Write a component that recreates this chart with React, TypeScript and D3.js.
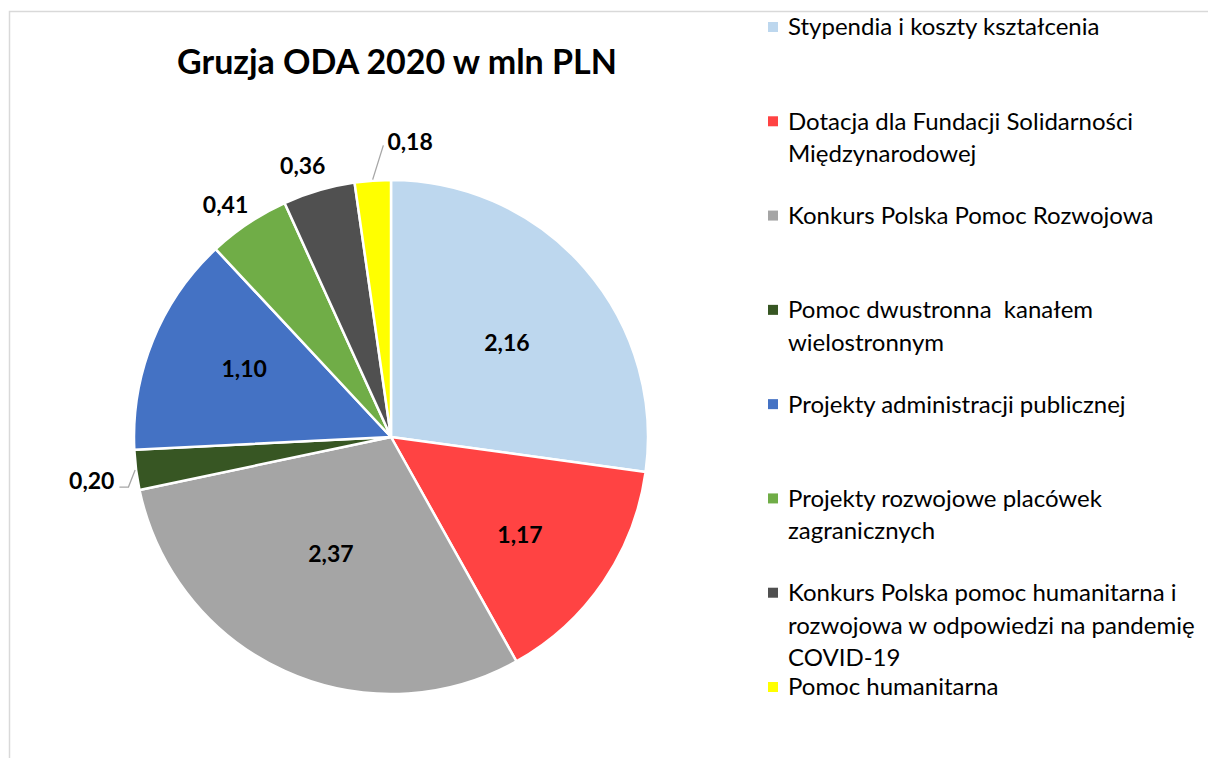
import React from 'react';
import * as d3 from 'd3';

// Gruzja ODA 2020, mln PLN
const categories = [
  'Stypendia i koszty kształcenia',
  'Dotacja dla Fundacji Solidarności Międzynarodowej',
  'Konkurs Polska Pomoc Rozwojowa',
  'Pomoc dwustronna  kanałem wielostronnym',
  'Projekty administracji publicznej',
  'Projekty rozwojowe placówek zagranicznych',
  'Konkurs Polska pomoc humanitarna i rozwojowa w odpowiedzi na pandemię COVID-19',
  'Pomoc humanitarna',
];
const values = [2.16, 1.17, 2.37, 0.2, 1.1, 0.41, 0.36, 0.18];
const legendLines = [
  ['Stypendia i koszty kształcenia'],
  ['Dotacja dla Fundacji Solidarności', 'Międzynarodowej'],
  ['Konkurs Polska Pomoc Rozwojowa'],
  ['Pomoc dwustronna  kanałem', 'wielostronnym'],
  ['Projekty administracji publicznej'],
  ['Projekty rozwojowe placówek', 'zagranicznych'],
  ['Konkurs Polska pomoc humanitarna i', 'rozwojowa w odpowiedzi na pandemię', 'COVID-19'],
  ['Pomoc humanitarna'],
];
const colors = ['#BDD7EE', '#FF4343', '#A5A5A5', '#375623', '#4472C4', '#70AD47', '#505050', '#FFFF00'];

const W = 1208;
const H = 758;
const FONT = 'Lato, "Open Sans", sans-serif';

const App: React.FC = () => {
  const cx = 391;
  const cy = 437;
  const R = 257;
  const total = d3.sum(values);

  const pie = d3.pie<number>().sort(null).value(d => d);
  const arcs = pie(values);
  const arc = d3.arc<d3.PieArcDatum<number>>().innerRadius(0).outerRadius(R);

  const color = d3.scaleOrdinal<number, string>().domain(d3.range(values.length)).range(colors);
  const fmt = (v: number) => d3.format('.2f')(v).replace('.', ',');

  // point on a circle, angle measured clockwise from 12 o'clock
  const polar = (a: number, r: number): [number, number] => [Math.sin(a) * r, -Math.cos(a) * r];

  const legendX = 768;
  const legendTop = 27;
  const slot = (687 - 27) / 7;
  const lineH = 32.5;
  const labelSize = 23;

  return (
    <svg width={W} height={H} style={{ position: 'absolute', left: 0, top: 0 }} fontFamily={FONT}>
      <rect x={0} y={0} width={W} height={H} fill="#fff" />
      <rect x={9.5} y={11.5} width={W + 20} height={H + 20} fill="none" stroke="#d9d9d9" strokeWidth={1.5} />

      <text x={397} y={74} textAnchor="middle" fontSize={34} fontWeight={700} fill="#000">
        Gruzja ODA 2020 w mln PLN
      </text>

      <g transform={`translate(${cx},${cy})`}>
        {arcs.map((a, i) => (
          <path key={i} d={arc(a) || ''} fill={color(i)} stroke="#fff" strokeWidth={2.5} strokeLinejoin="round" />
        ))}
        {arcs.map((a, i) => {
          const mid = (a.startAngle + a.endAngle) / 2;
          const share = a.value / total;
          if (share >= 0.1) {
            const [x, y] = polar(mid + (i === 0 ? 0.037 : 0.05), R * (i === 2 ? 0.51 : i === 0 ? 0.58 : 0.63));
            return (
              <text key={i} x={x} y={y} dy="0.35em" textAnchor="middle" fontSize={labelSize} fontWeight={700}>
                {fmt(a.value)}
              </text>
            );
          }
          if (share >= 0.04) {
            const [x, y] = polar(mid - 0.03, R * 1.11);
            return (
              <text key={i} x={x} y={y} dy="0.35em" textAnchor="middle" fontSize={labelSize} fontWeight={700}>
                {fmt(a.value)}
              </text>
            );
          }
          // tiny slices: leader line to a label outside
          const [x0, y0] = polar(mid, R + 1);
          if (Math.sin(mid) < -0.5) {
            const [x1, y1] = polar(mid - 0.06, R * 1.04);
            const x2 = x1 - 9;
            return (
              <g key={i}>
                <polyline points={`${x0},${y0} ${x1},${y1} ${x2},${y1}`} fill="none" stroke="#a6a6a6" strokeWidth={1.3} />
                <text x={x2 - 5} y={y1} dy="0.1em" textAnchor="end" fontSize={labelSize} fontWeight={700}>
                  {fmt(a.value)}
                </text>
              </g>
            );
          }
          const [x1, y1] = polar(mid + 0.045, R * 1.135);
          return (
            <g key={i}>
              <line x1={x0} y1={y0} x2={x1} y2={y1} stroke="#a6a6a6" strokeWidth={1.3} />
              <text x={x1 + 4} y={y1} dy="0.2em" textAnchor="start" fontSize={labelSize} fontWeight={700}>
                {fmt(a.value)}
              </text>
            </g>
          );
        })}
      </g>

      <g>
        {categories.map((c, i) => {
          const y = legendTop + i * slot;
          return (
            <g key={c}>
              <rect x={legendX} y={y - 5} width={10} height={10} fill={color(i)} />
              {legendLines[i].map((ln, j) => (
                <text key={j} x={legendX + 20} y={y + j * lineH} dy="0.35em" fontSize={24} fill="#000" style={{ whiteSpace: 'pre' }}>
                  {ln}
                </text>
              ))}
            </g>
          );
        })}
      </g>
    </svg>
  );
};

export default App;
